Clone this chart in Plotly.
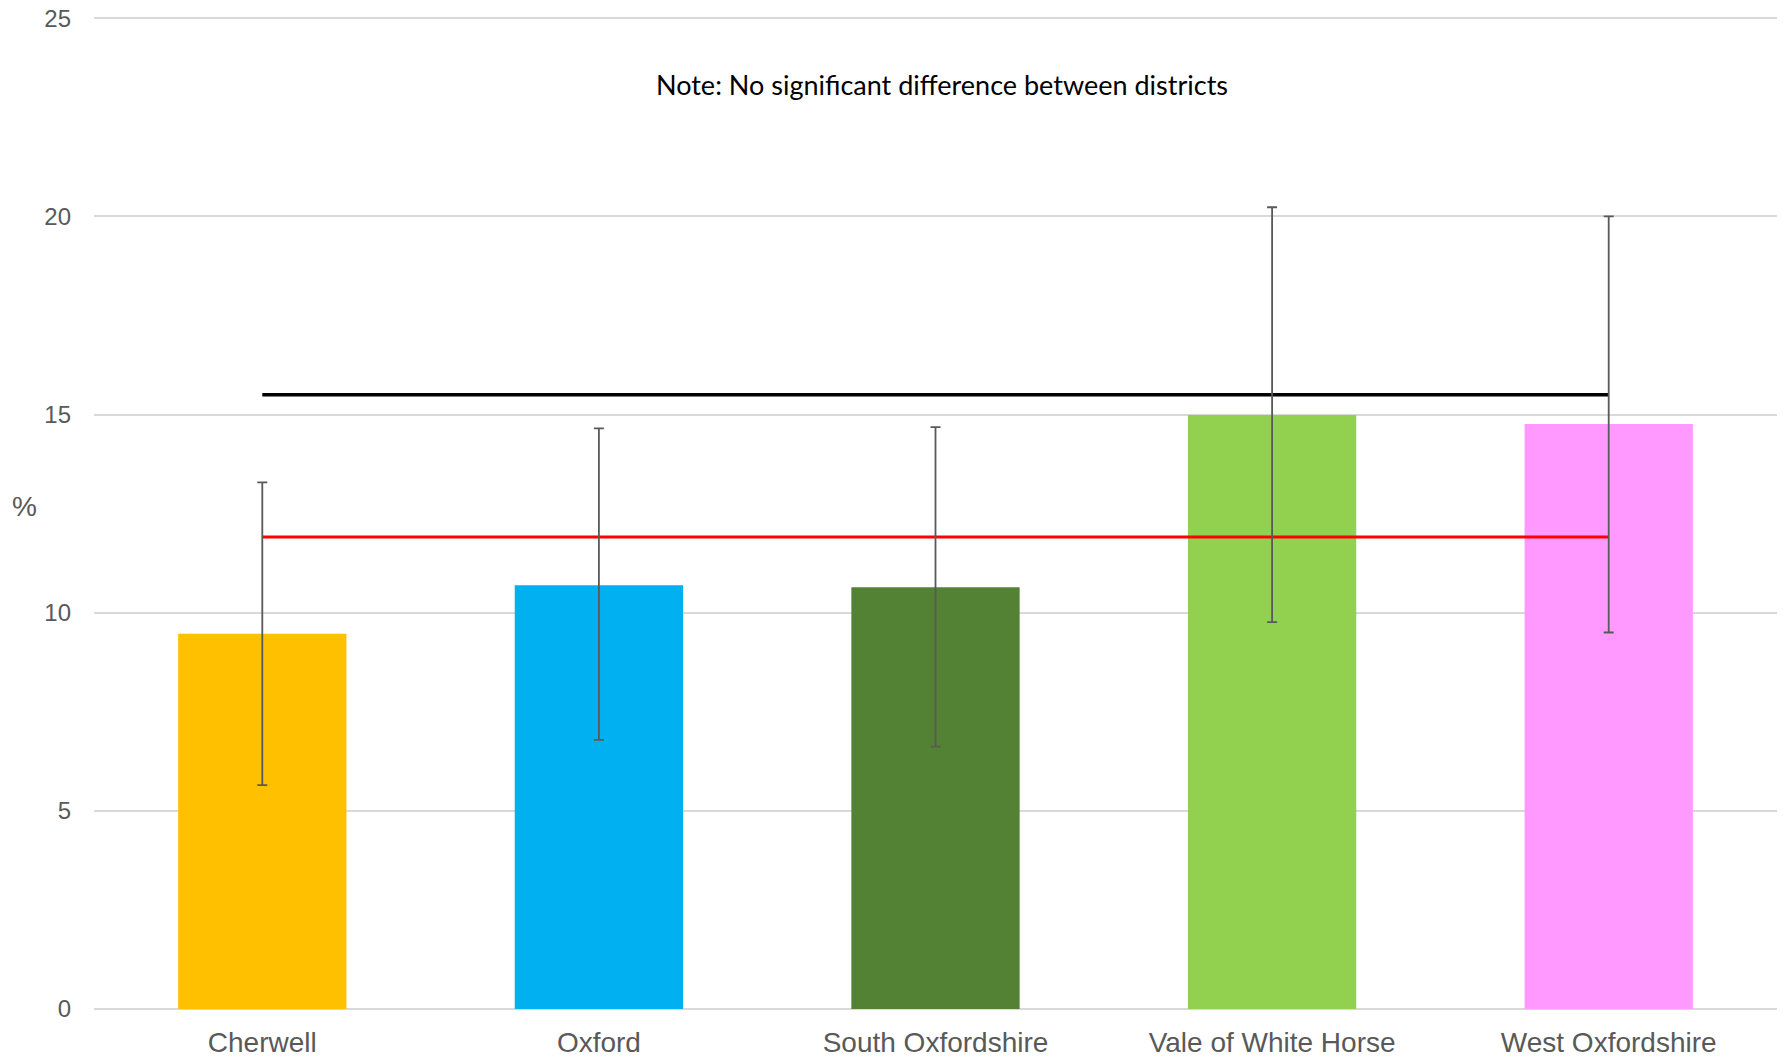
import plotly.graph_objects as go

districts = ["Cherwell", "Oxford", "South Oxfordshire", "Vale of White Horse", "West Oxfordshire"]
values = [9.47, 10.69, 10.64, 14.99, 14.76]
upper = [13.29, 14.65, 14.68, 20.23, 20.0]
lower = [5.65, 6.79, 6.62, 9.76, 9.50]
bar_colors = ["#FFC000", "#00B0F0", "#548235", "#92D050", "#FF99FF"]
black_line_value = 15.5
red_line_value = 11.91
y_ticks = [0, 5, 10, 15, 20, 25]
note = "Note: No significant difference between districts"

err_plus = [u - v for u, v in zip(upper, values)]
err_minus = [v - l for v, l in zip(values, lower)]

fig = go.Figure()
fig.add_trace(go.Bar(
    x=districts, y=values, marker=dict(color=bar_colors, line=dict(width=0)),
    showlegend=False, hoverinfo="skip",
))
fig.add_trace(go.Scatter(
    x=[districts[0], districts[-1]], y=[black_line_value, black_line_value],
    mode="lines", line=dict(color="#000000", width=3.5), showlegend=False,
))
fig.add_trace(go.Scatter(
    x=[districts[0], districts[-1]], y=[red_line_value, red_line_value],
    mode="lines", line=dict(color="#FF0000", width=3), showlegend=False,
))
fig.add_trace(go.Scatter(
    x=districts, y=values, mode="markers", marker=dict(size=0.1, color="rgba(0,0,0,0)"),
    error_y=dict(type="data", symmetric=False, array=err_plus, arrayminus=err_minus,
                 color="#595959", thickness=1.8, width=5),
    showlegend=False,
))

fig.update_layout(
    width=1783, height=1059,
    margin=dict(l=94, r=6, t=17, b=50),
    paper_bgcolor="white", plot_bgcolor="white",
    bargap=0.5,
    font=dict(family="Liberation Sans, Arial, sans-serif", color="#595959"),
    xaxis=dict(showgrid=False, showline=False, zeroline=False, ticks="", automargin=False,
               tickfont=dict(size=28, color="#595959"), ticklabelstandoff=14),
    yaxis=dict(range=[0, 25.03], tickvals=y_ticks, showgrid=True, gridcolor="#D9D9D9",
               gridwidth=2, zeroline=True, zerolinecolor="#D9D9D9", zerolinewidth=2,
               showline=False, ticks="", automargin=False,
               tickfont=dict(size=24, color="#595959"), ticklabelstandoff=22),
    annotations=[
        dict(text=note, xref="paper", yref="paper", x=0.504, y=0.932,
             showarrow=False, xanchor="center", yanchor="middle",
             font=dict(family="Lato, sans-serif", size=27, color="#000000")),
        dict(text="%", xref="paper", yref="paper", x=-0.041, y=0.507,
             showarrow=False, xanchor="center", yanchor="middle",
             font=dict(family="Liberation Sans, Arial, sans-serif", size=28, color="#595959")),
    ],
)

fig.write_html("out.html", config={"displayModeBar": False},
               post_script="document.body.style.margin='0';document.body.style.overflow='hidden';")
